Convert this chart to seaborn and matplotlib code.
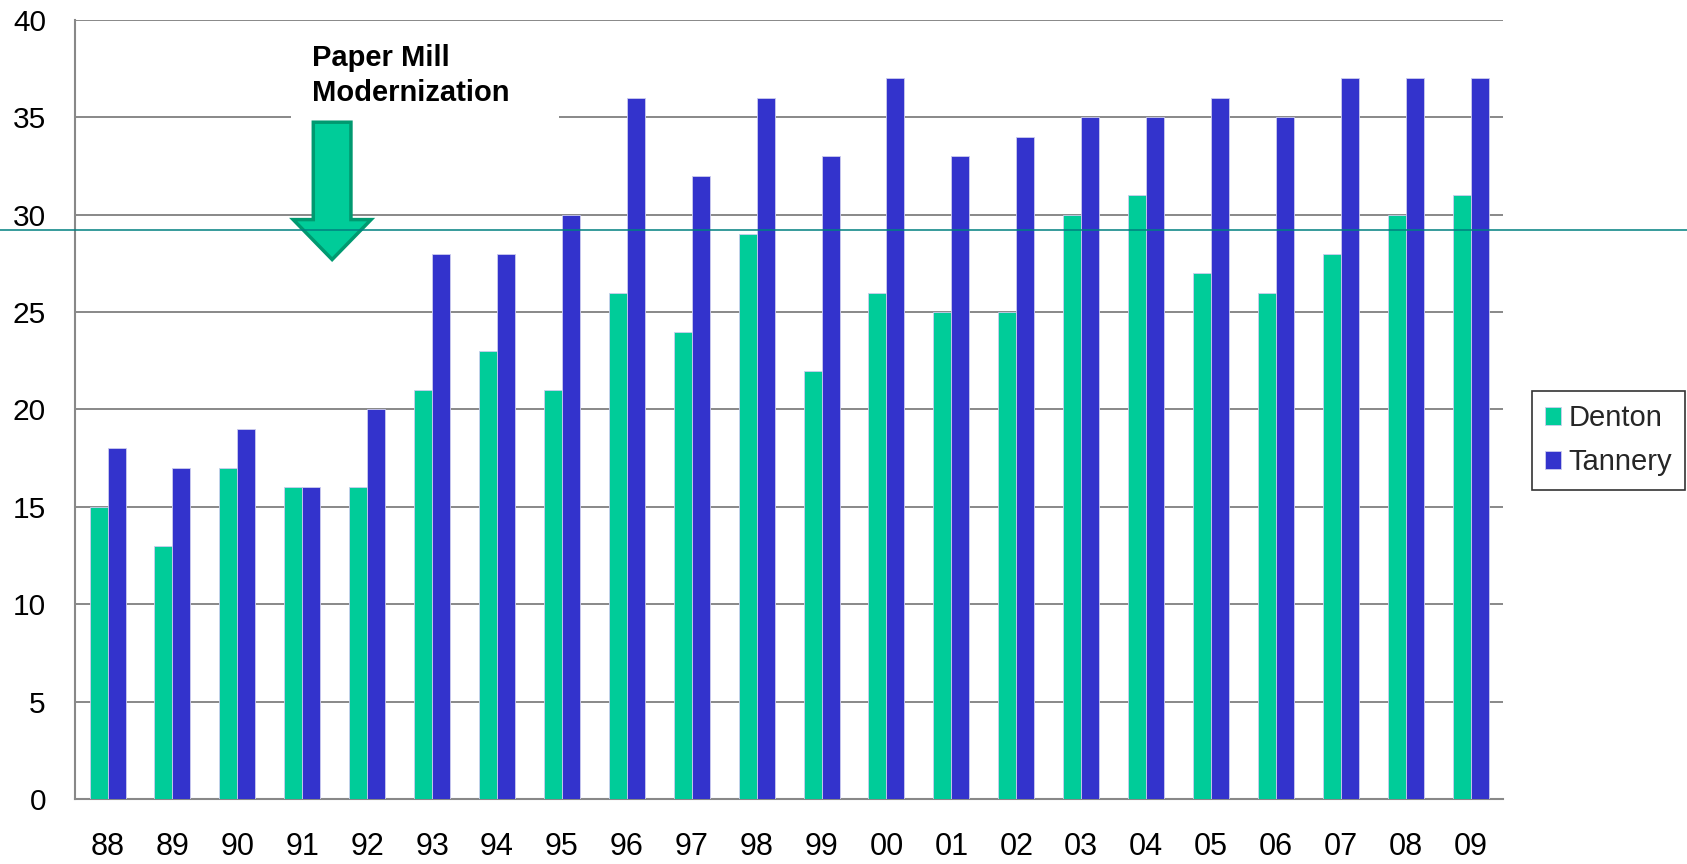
import matplotlib
matplotlib.use("Agg")
import matplotlib.pyplot as plt
import matplotlib.transforms as mtransforms
from matplotlib.patches import Polygon, Rectangle
from matplotlib.lines import Line2D
import seaborn as sns
import pandas as pd

years = ["88", "89", "90", "91", "92", "93", "94", "95", "96", "97", "98",
         "99", "00", "01", "02", "03", "04", "05", "06", "07", "08", "09"]
denton = [15, 13, 17, 16, 16, 21, 23, 21, 26, 24, 29, 22, 26, 25, 25, 30,
          31, 27, 26, 28, 30, 31]
tannery = [18, 17, 19, 16, 20, 28, 28, 30, 36, 32, 36, 33, 37, 33, 34, 35,
           35, 36, 35, 37, 37, 37]
series = ["Denton", "Tannery"]
colors = ["#00CC99", "#3333CC"]
reference_level = 29.2

df = pd.DataFrame({
    "year": years * 2,
    "value": denton + tannery,
    "site": [series[0]] * len(years) + [series[1]] * len(years),
})

sns.set_theme(style="white")
plt.rcParams["font.family"] = ["Liberation Sans", "DejaVu Sans"]

fig = plt.figure(figsize=(16.87, 8.64), dpi=100)
ax = fig.add_axes([0.0445, 0.0752, 0.891 - 0.0445, 0.9769 - 0.0752])

sns.barplot(data=df, x="year", y="value", hue="site", order=years,
            hue_order=series, palette=colors, width=0.555, ax=ax,
            saturation=1, errorbar=None, edgecolor="#ccccee", linewidth=0.6,
            zorder=3)

ax.set_xlim(-0.5, len(years) - 0.5)
ax.set_ylim(0, 40)
ax.set_yticks(range(0, 41, 5))
ax.set_xlabel("")
ax.set_ylabel("")
ax.yaxis.grid(True, color="#888888", linewidth=1.4, zorder=0)
ax.xaxis.grid(False)
ax.set_axisbelow(True)
for side in ["top", "right"]:
    ax.spines[side].set_visible(False)
for side in ["left", "bottom"]:
    ax.spines[side].set_color("#888888")
    ax.spines[side].set_linewidth(1.5)
ax.tick_params(axis="y", labelsize=21.5, pad=21, length=0, colors="black")
ax.tick_params(axis="x", labelsize=22, pad=24, length=0, colors="black")

# white backing behind the annotation text
ax.add_patch(Rectangle((2.83, 34.8), 6.96 - 2.83, 39.3 - 34.8,
                       facecolor="white", edgecolor="none", zorder=2))
ax.text(3.15, 38.75, "Paper Mill\nModernization", fontsize=21,
        fontweight="bold", ha="left", va="top", linespacing=1.3,
        color="black", zorder=5)

# downward block arrow marking the modernization
cx = 3.46
shaft_half, head_half = 0.29, 0.60
top, neck, tip = 34.75, 29.75, 27.7
arrow = Polygon([(cx - shaft_half, top), (cx + shaft_half, top),
                 (cx + shaft_half, neck), (cx + head_half, neck),
                 (cx, tip), (cx - head_half, neck), (cx - shaft_half, neck)],
                closed=True, facecolor="#00CC99", edgecolor="#009970",
                linewidth=2.5, joinstyle="miter", zorder=6)
ax.add_patch(arrow)

# reference level spanning the full figure width
blend = mtransforms.blended_transform_factory(fig.transFigure, ax.transData)
fig.add_artist(Line2D([0, 1], [reference_level, reference_level],
                      transform=blend, color="#008080", linewidth=1.1,
                      zorder=7))

handles, labels = ax.get_legend_handles_labels()
if ax.legend_:
    ax.legend_.remove()
leg = fig.legend(handles, labels, loc="center left",
                 bbox_to_anchor=(0.908, 0.4902), fontsize=21, frameon=True,
                 fancybox=False, edgecolor="black", handlelength=0.55,
                 handleheight=0.55, handletextpad=0.25, labelspacing=0.55,
                 borderpad=0.45, borderaxespad=0)
leg.get_frame().set_linewidth(1.2)

fig.savefig("out.png", dpi=100, facecolor="white")
